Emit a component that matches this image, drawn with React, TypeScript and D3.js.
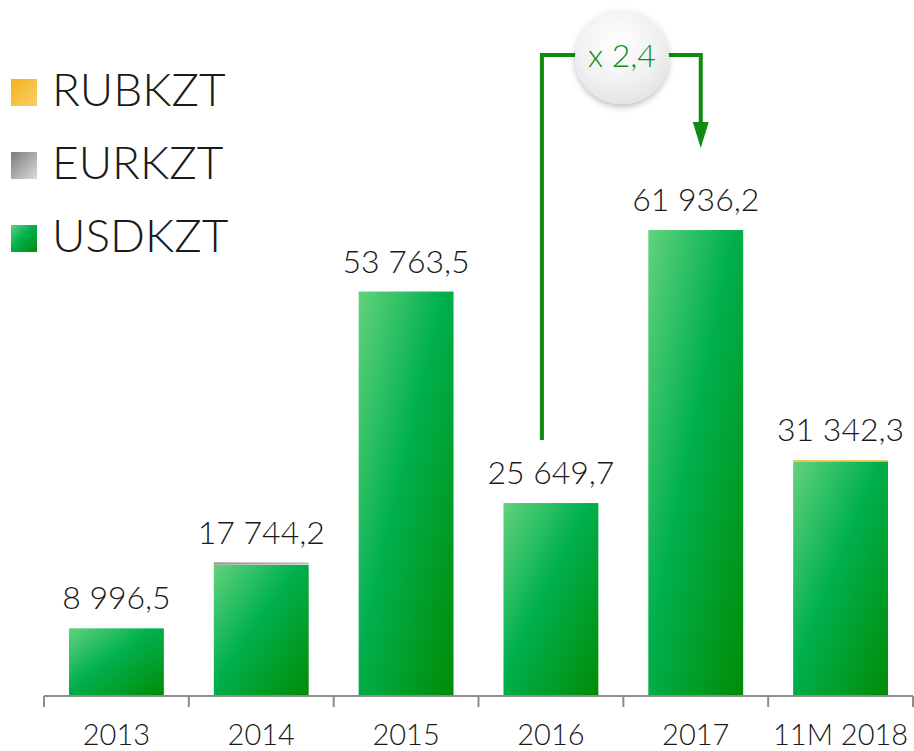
import React from 'react';
import * as d3 from 'd3';

const categories = ['2013', '2014', '2015', '2016', '2017', '11M 2018'];
const totals = [8996.5, 17744.2, 53763.5, 25649.7, 61936.2, 31342.3];
const rubkzt = [0, 0, 0, 0, 0, 150];
const eurkzt = [0, 300, 0, 0, 0, 0];
const usdkzt = totals.map((t, i) => t - rubkzt[i] - eurkzt[i]);
const totalLabels = ['8 996,5', '17 744,2', '53 763,5', '25 649,7', '61 936,2', '31 342,3'];
const legendItems = ['RUBKZT', 'EURKZT', 'USDKZT'];
const multiplierLabel = 'x 2,4';

const W = 914;
const H = 751;
const FONT = 'Lato, "Open Sans", sans-serif';

export default function App() {
  const x = d3.scaleBand<string>().domain(categories).range([44, 913]).paddingInner(0.345).paddingOuter(0.1725);
  const y = d3.scaleLinear().domain([0, 65000]).range([696, 207]);

  const stackData = categories.map((c, i) => ({ cat: c, USDKZT: usdkzt[i], EURKZT: eurkzt[i], RUBKZT: rubkzt[i] }));
  const stack = d3.stack<any>().keys(['USDKZT', 'EURKZT', 'RUBKZT']);
  const series = stack(stackData);
  const fills: Record<string, string> = { USDKZT: 'url(#gGreen)', EURKZT: 'url(#gGray)', RUBKZT: 'url(#gOrange)' };

  const bw = x.bandwidth();
  const ticks = d3.range(categories.length + 1).map((i) => 44 + i * (869 / categories.length));

  const cx16 = (x('2016') as number) + bw / 2;
  const cx17 = (x('2017') as number) + bw / 2;
  const bubbleX = 622;
  const bubbleY = 57;
  const r = 47;
  const lineY = 55;
  const leftX = cx16 - 9;
  const rightX = cx17 + 5;
  const green = '#0f8c12';

  return (
    <svg width={W} height={H} style={{ position: 'absolute', left: 0, top: 0 }} fontFamily={FONT}>
      <defs>
        <linearGradient id="gGreen" x1="0" y1="0" x2="1" y2="1">
          <stop offset="0" stopColor="#62d27e" />
          <stop offset="0.45" stopColor="#00b04e" />
          <stop offset="1" stopColor="#008c05" />
        </linearGradient>
        <linearGradient id="gGray" x1="0" y1="0" x2="1" y2="1">
          <stop offset="0" stopColor="#7a7a7a" />
          <stop offset="1" stopColor="#dcdcdc" />
        </linearGradient>
        <linearGradient id="gOrange" x1="0" y1="0" x2="1" y2="1">
          <stop offset="0" stopColor="#f2b21c" />
          <stop offset="1" stopColor="#f8d068" />
        </linearGradient>
        <radialGradient id="gBubble" cx="0.45" cy="0.35" r="0.7">
          <stop offset="0" stopColor="#ffffff" />
          <stop offset="0.6" stopColor="#f1f1f1" />
          <stop offset="1" stopColor="#e2e2e2" />
        </radialGradient>
        <filter id="shadow" x="-30%" y="-30%" width="160%" height="170%">
          <feDropShadow dx="0" dy="3" stdDeviation="3" floodColor="#000" floodOpacity="0.25" />
        </filter>
      </defs>

      {/* legend */}
      {legendItems.map((k, i) => (
        <g key={k} transform={`translate(11, ${79 + i * 73})`}>
          <rect width={26} height={27} fill={fills[k]} />
          <text x={41} y={27} fontSize={46} fontWeight={300} fill="#1a1a1a">{k}</text>
        </g>
      ))}

      {/* bars */}
      {series.map((s) => (
        <g key={s.key} fill={fills[s.key]}>
          {s.map((d, i) => {
            const h = y(d[0]) - y(d[1]);
            if (h <= 0) return null;
            return <rect key={i} x={x(categories[i])} y={y(d[1])} width={bw} height={h} />;
          })}
        </g>
      ))}

      {/* value labels */}
      {categories.map((c, i) => (
        <text key={c} x={(x(c) as number) + bw / 2} y={y(totals[i]) - 19} textAnchor="middle" fontSize={32} fontWeight={300} fill="#1a1a1a">
          {totalLabels[i]}
        </text>
      ))}

      {/* axis */}
      <line x1={44} x2={913} y1={696} y2={696} stroke="#8c8c8c" strokeWidth={2} />
      {ticks.map((t, i) => (
        <line key={i} x1={t} x2={t} y1={696} y2={707} stroke="#8c8c8c" strokeWidth={2} />
      ))}
      {categories.map((c) => (
        <text key={c} x={(x(c) as number) + bw / 2} y={745} textAnchor="middle" fontSize={29} fontWeight={300} fill="#1a1a1a">
          {c}
        </text>
      ))}

      {/* annotation */}
      <path d={`M${leftX},440 V${lineY} H${bubbleX}`} fill="none" stroke={green} strokeWidth={4} />
      <path d={`M${bubbleX},${lineY} H${rightX} V128`} fill="none" stroke={green} strokeWidth={4} />
      <path d={`M${rightX - 8},122 L${rightX + 8},122 L${rightX},148 Z`} fill={green} />
      <circle cx={bubbleX} cy={bubbleY} r={r} fill="url(#gBubble)" filter="url(#shadow)" />
      <text x={bubbleX} y={bubbleY + 10} textAnchor="middle" fontSize={32} fontWeight={300} fill={green}>
        {multiplierLabel}
      </text>
    </svg>
  );
}
